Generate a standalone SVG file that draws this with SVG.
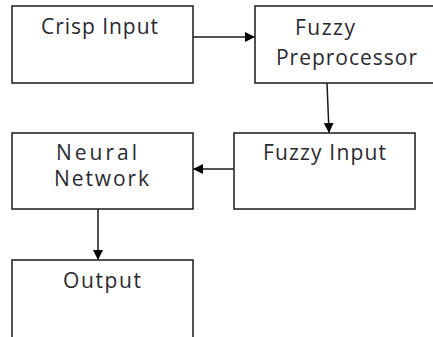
<svg xmlns="http://www.w3.org/2000/svg" width="433" height="337" viewBox="0 0 433 337">
<style>
.box{fill:#fff;stroke:#1a1a1a;stroke-width:1.5}
.t{font-family:"Open Sans","DejaVu Sans",sans-serif;font-size:21px;fill:#2a2a30}
.c{stroke:#1a1a1a;stroke-width:1.5;fill:none}
</style>
<defs>
<marker id="ah" markerWidth="10" markerHeight="10" refX="9" refY="5" orient="auto" markerUnits="userSpaceOnUse">
<path d="M0,0 L10,5 L0,10 Z" fill="#000"/>
</marker>
</defs>
<rect width="433" height="337" fill="#fff"/>
<g id="crisp-input"><rect class="box" x="12" y="6" width="181" height="77"/><text class="t" x="41" y="34" textLength="117" lengthAdjust="spacing">Crisp Input</text></g>
<g id="fuzzy-preprocessor"><rect class="box" x="255" y="6" width="190" height="77"/><text class="t" x="295" y="35" textLength="60" lengthAdjust="spacing">Fuzzy</text><text class="t" x="276" y="65" textLength="141" lengthAdjust="spacing">Preprocessor</text></g>
<g id="fuzzy-input"><rect class="box" x="234" y="133" width="181" height="76"/><text class="t" x="263" y="160" textLength="123" lengthAdjust="spacing">Fuzzy Input</text></g>
<g id="neural-network"><rect class="box" x="12" y="133" width="181" height="76"/><text class="t" x="56" y="160" textLength="81" lengthAdjust="spacing">Neural</text><text class="t" x="54" y="186" textLength="95" lengthAdjust="spacing">Network</text></g>
<g id="output"><rect class="box" x="12" y="260" width="181" height="90"/><text class="t" x="63" y="288" textLength="78" lengthAdjust="spacing">Output</text></g>
<g id="connectors">
<line class="c" x1="193" y1="37" x2="254" y2="37" marker-end="url(#ah)"/>
<line class="c" x1="327" y1="83" x2="329" y2="132" marker-end="url(#ah)"/>
<line class="c" x1="234" y1="169" x2="194" y2="169" marker-end="url(#ah)"/>
<line class="c" x1="98" y1="209" x2="98" y2="259" marker-end="url(#ah)"/>
</g>
</svg>
